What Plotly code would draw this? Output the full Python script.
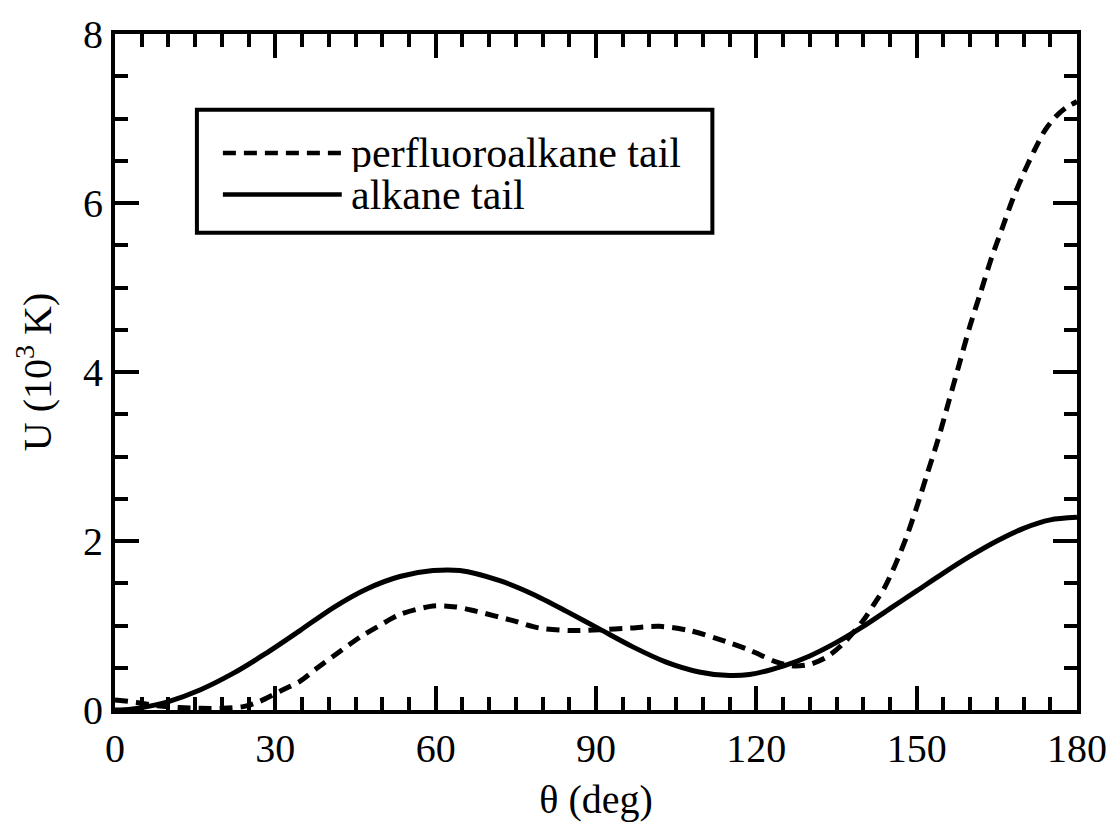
import plotly.graph_objects as go

# ---- data ----
theta_alkane = [0, 3, 6, 10, 16, 22, 28, 34.6, 40.8, 47, 53.3, 59.5, 64.5, 72, 78.2, 84.4,
                90.6, 96.8, 103, 109.3, 114.3, 118.7, 125, 130, 135, 140, 145, 150, 155,
                160, 165, 170, 175, 180]
U_alkane = [0, 0.01, 0.04, 0.10, 0.24, 0.43, 0.66, 0.94, 1.21, 1.43, 1.58, 1.65, 1.65, 1.53,
            1.37, 1.17, 0.96, 0.75, 0.57, 0.45, 0.41, 0.42, 0.52, 0.64, 0.80, 0.99, 1.20,
            1.41, 1.62, 1.82, 2.00, 2.15, 2.25, 2.28]

theta_perfluoro = [0, 4, 8, 12, 16, 20, 24, 27, 30.8, 34.6, 37.7, 42, 45.8, 49, 53.3, 59.5,
                   63.8, 67.5, 74.3, 79.4, 85.6, 90.6, 96.3, 101.9, 107.5, 114.3, 118.7, 123.7,
                   127, 130, 133, 136, 140, 142, 144, 146, 148, 150, 152, 154, 156, 158, 160,
                   162, 164, 166, 168, 170, 172, 174, 176, 178, 180]
U_perfluoro = [0.12, 0.09, 0.05, 0.03, 0.02, 0.02, 0.04, 0.10, 0.22, 0.34, 0.49, 0.69, 0.86,
               0.98, 1.13, 1.23, 1.22, 1.17, 1.06, 0.97, 0.94, 0.95, 0.97, 0.99, 0.94, 0.81,
               0.71, 0.57, 0.52, 0.54, 0.62, 0.77, 1.06, 1.25, 1.45, 1.72, 2.03, 2.40, 2.80,
               3.20, 3.65, 4.10, 4.55, 4.95, 5.35, 5.70, 6.05, 6.35, 6.62, 6.86, 7.02, 7.13,
               7.20]

series_names = ["perfluoroalkane tail", "alkane tail"]
x_ticks = [0, 30, 60, 90, 120, 150, 180]
y_ticks = [0, 2, 4, 6, 8]

FONT = "Liberation Serif, Times New Roman, serif"
W, H = 1119, 830
L, R, T, B = 115, 41, 23, 120

fig = go.Figure()
fig.add_trace(go.Scatter(x=theta_perfluoro, y=U_perfluoro, mode="lines",
                         name=series_names[0], line=dict(color="black", width=5,
                                                         dash="13px,8px", shape="spline",
                                                         smoothing=0.8),
                         showlegend=False))
fig.add_trace(go.Scatter(x=theta_alkane, y=U_alkane, mode="lines",
                         name=series_names[1], line=dict(color="black", width=5,
                                                         shape="spline", smoothing=0.8),
                         showlegend=False))

axis_common = dict(showgrid=False, zeroline=False, showline=True, linecolor="black",
                   linewidth=4, mirror="allticks", ticks="inside", ticklen=24, tickwidth=4,
                   tickcolor="black",
                   tickfont=dict(family=FONT, size=40, color="black"))

fig.update_xaxes(range=[0, 180], tickvals=x_ticks,
                 minor=dict(dtick=5, ticks="inside", ticklen=13, tickwidth=4, tickcolor="black"),
                 title=dict(text="θ (deg)", font=dict(family=FONT, size=40, color="black"),
                            standoff=16),
                 **axis_common)
fig.update_yaxes(range=[0, 8], tickvals=y_ticks,
                 minor=dict(dtick=0.5, ticks="inside", ticklen=13, tickwidth=4, tickcolor="black"),
                 title=dict(text="U (10<sup>3</sup> K)", font=dict(family=FONT, size=40, color="black"),
                            standoff=20),
                 **axis_common)

# ---- manual legend box (pixel positions converted to paper coords) ----
pw, ph = W - L - R, H - T - B
def px(x):
    return (x - L) / pw
def py(y):
    return (H - B - y) / ph

fig.add_shape(type="rect", xref="paper", yref="paper", x0=px(197), x1=px(713), y0=py(225), y1=py(100),
              line=dict(color="black", width=4), fillcolor="white", layer="above")
fig.add_shape(type="line", xref="paper", yref="paper", x0=px(223), x1=px(342), y0=py(144), y1=py(144),
              line=dict(color="black", width=4.5, dash="13px,8px"))
fig.add_shape(type="line", xref="paper", yref="paper", x0=px(223), x1=px(342), y0=py(186), y1=py(186),
              line=dict(color="black", width=4.5))
fig.add_annotation(xref="paper", yref="paper", x=px(349), y=py(144), text=series_names[0],
                   showarrow=False, xanchor="left", yanchor="middle", height=38, valign="middle",
                   font=dict(family=FONT, size=42, color="black"))
fig.add_annotation(xref="paper", yref="paper", x=px(349), y=py(187), text=series_names[1],
                   showarrow=False, xanchor="left", yanchor="middle", height=38, valign="middle",
                   font=dict(family=FONT, size=42, color="black"))

fig.update_layout(width=W, height=H, margin=dict(l=L, r=R, t=T, b=B),
                  paper_bgcolor="white", plot_bgcolor="white",
                  font=dict(family=FONT, color="black"))

fig.write_html("out.html")
